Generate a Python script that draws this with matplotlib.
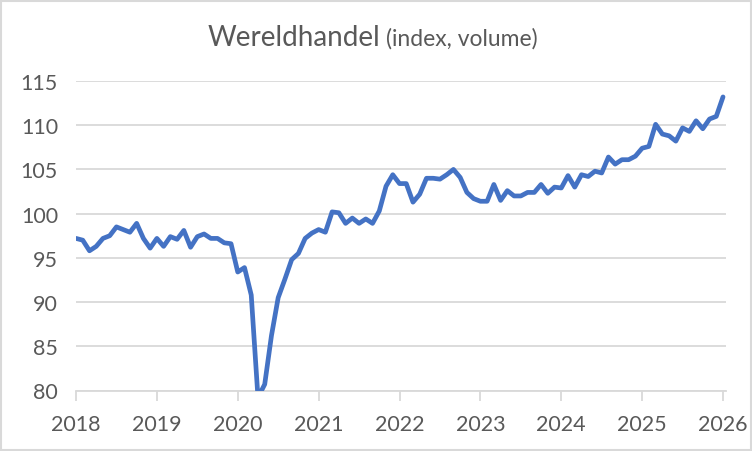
import matplotlib.pyplot as plt
import numpy as np
from matplotlib.patches import Rectangle

# maandelijkse index wereldhandel (volume), jan 2018 t/m jan 2026
w2018 = [97.2, 97.0, 95.8, 96.3, 97.2, 97.5, 98.5, 98.2, 97.9, 98.9, 97.2, 96.1]
w2019 = [97.2, 96.3, 97.4, 97.1, 98.1, 96.2, 97.4, 97.7, 97.2, 97.2, 96.7, 96.6]
w2020 = [93.4, 93.9, 90.8, 79.2, 80.7, 86.2, 90.5, 92.6, 94.8, 95.5, 97.2, 97.8]
w2021 = [98.2, 97.9, 100.2, 100.1, 98.9, 99.5, 98.9, 99.4, 98.9, 100.3, 103.1, 104.4]
w2022 = [103.4, 103.4, 101.3, 102.2, 104.0, 104.0, 103.9, 104.4, 105.0, 104.1, 102.4, 101.7]
w2023 = [101.4, 101.4, 103.3, 101.5, 102.6, 102.0, 102.0, 102.4, 102.4, 103.3, 102.3, 103.0]
w2024 = [102.9, 104.3, 103.0, 104.4, 104.2, 104.8, 104.6, 106.4, 105.6, 106.1, 106.1, 106.5]
w2025 = [107.4, 107.6, 110.1, 109.0, 108.8, 108.2, 109.7, 109.3, 110.5, 109.6, 110.7, 111.0]
w2026 = [113.2]

jaren = [2018, 2019, 2020, 2021, 2022, 2023, 2024, 2025, 2026]
y_ticks = [80, 85, 90, 95, 100, 105, 110, 115]

waarden = np.array(w2018 + w2019 + w2020 + w2021 + w2022 + w2023 + w2024 + w2025 + w2026)
x = 2018 + np.arange(len(waarden)) / 12

plt.rcParams['font.family'] = ['Lato', 'DejaVu Sans']
grijs = '#595959'
raster = '#D9D9D9'

fig = plt.figure(figsize=(7.52, 4.52), dpi=100)
ax = fig.add_axes([76 / 752, 60.5 / 452, 650 / 752, 309.5 / 452])

ax.plot(x, waarden, color='#4472C4', lw=3.4, solid_joinstyle='round', solid_capstyle='round', zorder=3)

ax.set_xlim(2018, 2026 + 3 / 650 * 8)
ax.set_ylim(80, 115)
ax.set_xticks(jaren)
ax.set_xticklabels([str(j) for j in jaren])
ax.set_yticks(y_ticks)

ax.grid(axis='y', color=raster, lw=1.3)
ax.set_axisbelow(True)
for s in ['top', 'right', 'left']:
    ax.spines[s].set_visible(False)
ax.spines['bottom'].set_color(raster)
ax.spines['bottom'].set_linewidth(1.3)
ax.spines['bottom'].set_zorder(1)
ax.tick_params(axis='x', colors=raster, length=7, width=1.3, pad=10, labelsize=15.5, labelcolor=grijs)
ax.tick_params(axis='y', length=0, pad=13, labelsize=15.5, labelcolor=grijs)

fig.text(0.506, 1 - 46 / 452, 'Wereldhandel', ha='right', va='baseline', fontsize=20, color=grijs)
fig.text(0.513, 1 - 46 / 452, '(index, volume)', ha='left', va='baseline', fontsize=16.5, color=grijs)

fig.patches.append(Rectangle((1.5 / 752, 1.5 / 452), 749 / 752, 449 / 452, transform=fig.transFigure,
                             fill=False, edgecolor=raster, lw=1.5))

fig.savefig('out.png', dpi=100)
